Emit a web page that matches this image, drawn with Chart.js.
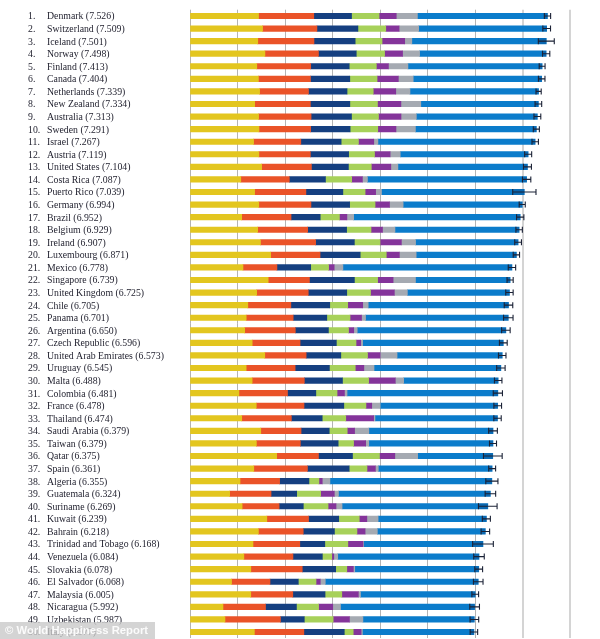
<!DOCTYPE html>
<html>
<head>
<meta charset="utf-8">
<script src="https://cdn.jsdelivr.net/npm/chart.js@4.4.1/dist/chart.umd.min.js"></script>
<style>
    html, body { margin: 0; padding: 0; background: #fff; }
    #wrap { width: 600px; height: 639px; position: relative; }
</style>
</head>
<body>
<div id="wrap"><canvas id="happinessChart"></canvas></div>
<script>
const countries = ['Denmark', 'Switzerland', 'Iceland', 'Norway', 'Finland', 'Canada', 'Netherlands', 'New Zealand',
    'Australia', 'Sweden', 'Israel', 'Austria', 'United States', 'Costa Rica', 'Puerto Rico', 'Germany', 'Brazil',
    'Belgium', 'Ireland', 'Luxembourg', 'Mexico', 'Singapore', 'United Kingdom', 'Chile', 'Panama', 'Argentina',
    'Czech Republic', 'United Arab Emirates', 'Uruguay', 'Malta', 'Colombia', 'France', 'Thailand', 'Saudi Arabia',
    'Taiwan', 'Qatar', 'Spain', 'Algeria', 'Guatemala', 'Suriname', 'Kuwait', 'Bahrain', 'Trinidad and Tobago',
    'Venezuela', 'Slovakia', 'El Salvador', 'Malaysia', 'Nicaragua', 'Uzbekistan', 'Italy'];

const scores = ['7.526', '7.509', '7.501', '7.498', '7.413', '7.404', '7.339', '7.334', '7.313', '7.291', '7.267',
    '7.119', '7.104', '7.087', '7.039', '6.994', '6.952', '6.929', '6.907', '6.871', '6.778', '6.739', '6.725',
    '6.705', '6.701', '6.650', '6.596', '6.573', '6.545', '6.488', '6.481', '6.478', '6.474', '6.379', '6.379',
    '6.375', '6.361', '6.355', '6.324', '6.269', '6.239', '6.218', '6.168', '6.084', '6.078', '6.068', '6.005',
    '5.992', '5.987', '5.977'];

const lowerCI = [7.460, 7.428, 7.333, 7.421, 7.351, 7.335, 7.284, 7.264, 7.241, 7.227, 7.199, 7.045, 7.020, 6.999,
    6.794, 6.930, 6.875, 6.861, 6.836, 6.804, 6.700, 6.674, 6.647, 6.615, 6.601, 6.560, 6.514, 6.494, 6.456, 6.409,
    6.384, 6.397, 6.396, 6.287, 6.305, 6.178, 6.288, 6.227, 6.213, 6.073, 6.154, 6.128, 5.950, 5.973, 5.996, 5.967,
    5.934, 5.890, 5.896, 5.898];

const upperCI = [7.592, 7.590, 7.669, 7.575, 7.475, 7.473, 7.394, 7.404, 7.385, 7.355, 7.335, 7.193, 7.188, 7.175,
    7.284, 7.058, 7.029, 6.997, 6.978, 6.938, 6.856, 6.804, 6.803, 6.795, 6.801, 6.740, 6.678, 6.652, 6.634, 6.567,
    6.578, 6.559, 6.552, 6.471, 6.453, 6.572, 6.434, 6.483, 6.435, 6.465, 6.324, 6.308, 6.386, 6.195, 6.160, 6.169,
    6.076, 6.094, 6.078, 6.056];

const gdp = [1.442, 1.527, 1.427, 1.577, 1.406, 1.440, 1.465, 1.361, 1.444, 1.452, 1.338, 1.450, 1.508, 1.069, 1.359,
    1.448, 1.088, 1.425, 1.483, 1.698, 1.115, 1.646, 1.403, 1.217, 1.183, 1.151, 1.309, 1.574, 1.182, 1.308, 1.030,
    1.395, 1.089, 1.490, 1.397, 1.824, 1.343, 1.053, 0.835, 1.097, 1.617, 1.440, 1.326, 1.134, 1.280, 0.874, 1.279,
    0.694, 0.736, 1.355];

const socialSupport = [1.164, 1.145, 1.183, 1.127, 1.135, 1.096, 1.029, 1.173, 1.105, 1.088, 0.995, 1.084, 1.048,
    1.022, 1.081, 1.098, 1.039, 1.052, 1.162, 1.040, 0.715, 0.868, 1.087, 0.906, 0.989, 1.066, 1.008, 0.871, 1.031,
    1.099, 1.022, 1.005, 1.045, 0.848, 0.926, 0.880, 1.129, 0.833, 0.871, 0.779, 0.878, 0.944, 0.986, 1.033, 1.083,
    0.810, 0.885, 0.895, 1.168, 1.042];

const lifeExpectancy = [0.795, 0.863, 0.867, 0.796, 0.811, 0.828, 0.812, 0.831, 0.851, 0.831, 0.849, 0.806, 0.779,
    0.761, 0.778, 0.815, 0.614, 0.820, 0.815, 0.845, 0.711, 0.947, 0.810, 0.819, 0.708, 0.697, 0.764, 0.730, 0.722,
    0.803, 0.597, 0.838, 0.649, 0.593, 0.796, 0.717, 0.879, 0.618, 0.540, 0.509, 0.636, 0.657, 0.526, 0.619, 0.704,
    0.596, 0.679, 0.652, 0.502, 0.851];

const freedom = [0.579, 0.586, 0.566, 0.596, 0.571, 0.574, 0.552, 0.581, 0.568, 0.582, 0.364, 0.544, 0.482, 0.552,
    0.468, 0.535, 0.404, 0.514, 0.540, 0.549, 0.377, 0.488, 0.500, 0.378, 0.489, 0.423, 0.414, 0.562, 0.544, 0.550,
    0.447, 0.466, 0.496, 0.379, 0.324, 0.567, 0.375, 0.210, 0.504, 0.522, 0.432, 0.474, 0.485, 0.198, 0.234, 0.373,
    0.353, 0.466, 0.608, 0.188];

const generosity = [0.362, 0.281, 0.477, 0.379, 0.255, 0.448, 0.474, 0.494, 0.474, 0.383, 0.323, 0.329, 0.411, 0.226,
    0.222, 0.305, 0.158, 0.242, 0.450, 0.276, 0.117, 0.327, 0.502, 0.316, 0.242, 0.110, 0.099, 0.266, 0.181, 0.562,
    0.156, 0.122, 0.587, 0.155, 0.255, 0.324, 0.177, 0.070, 0.288, 0.167, 0.160, 0.171, 0.319, 0.043, 0.138, 0.089,
    0.348, 0.298, 0.343, 0.167];

const corruption = [0.445, 0.412, 0.150, 0.358, 0.410, 0.313, 0.299, 0.419, 0.323, 0.409, 0.087, 0.213, 0.149, 0.105,
    0.123, 0.286, 0.142, 0.262, 0.298, 0.353, 0.184, 0.470, 0.274, 0.115, 0.084, 0.073, 0.040, 0.356, 0.214, 0.176,
    0.054, 0.178, 0.028, 0.300, 0.066, 0.480, 0.061, 0.162, 0.087, 0.127, 0.237, 0.258, 0.012, 0.083, 0.029, 0.106,
    0.045, 0.163, 0.283, 0.026];

const dystopiaResidual = [2.739, 2.695, 2.831, 2.665, 2.826, 2.705, 2.707, 2.476, 2.548, 2.547, 3.310, 2.693, 2.728,
    3.352, 3.007, 2.509, 3.507, 2.614, 2.160, 2.111, 3.559, 1.994, 2.150, 2.955, 3.006, 3.130, 2.962, 2.215, 2.671,
    1.990, 3.175, 2.474, 2.580, 2.615, 2.615, 1.582, 2.397, 3.409, 3.199, 3.069, 2.281, 2.274, 2.514, 2.975, 2.611,
    3.221, 2.416, 2.824, 2.346, 2.349];

let happinessChart = null;

function renderHappinessChart() {
    const ctx = document.getElementById('happinessChart').getContext('2d');

    // rank + country labels on the left, drawn at each category's pixel row
    const rowLabels = {
        id: 'rowLabels',
        afterDraw(chart) {
            const c = chart.ctx;
            const yScale = chart.scales.y;
            c.save();
            c.fillStyle = '#1d1d2b';
            c.font = '11px "Liberation Serif"';
            c.textBaseline = 'middle';
            c.scale(0.89, 1); // squeeze a bit, the original face is narrower
            countries.forEach((name, i) => {
                const y = yScale.getPixelForValue(i) + 0.5;
                c.fillText((i + 1) + '.', 28 / 0.89, y);
                c.fillText(name + ' (' + scores[i] + ')', 47 / 0.89, y);
            });
            c.restore();
        }
    };

    // 95% confidence interval whiskers
    const ciBars = {
        id: 'ciBars',
        afterDatasetsDraw(chart) {
            const c = chart.ctx;
            const xScale = chart.scales.x;
            const yScale = chart.scales.y;
            c.save();
            c.strokeStyle = '#1b2236';
            c.lineWidth = 1.1;
            countries.forEach((name, i) => {
                const y = yScale.getPixelForValue(i);
                const x1 = xScale.getPixelForValue(lowerCI[i]);
                const x2 = xScale.getPixelForValue(upperCI[i]);
                c.fillStyle = 'rgba(10, 40, 90, 0.25)';
                c.fillRect(x1, y - 2.75, xScale.getPixelForValue(parseFloat(scores[i])) - x1, 5.5);
                c.beginPath();
                c.moveTo(x1, y);
                c.lineTo(x2, y);
                c.moveTo(x1, y - 3);
                c.lineTo(x1, y + 3);
                c.moveTo(x2, y - 3);
                c.lineTo(x2, y + 3);
                c.stroke();
            });
            c.restore();
        }
    };

    // copyright stamp in the bottom corner
    const watermark = {
        id: 'watermark',
        afterDraw(chart) {
            const c = chart.ctx;
            c.save();
            c.fillStyle = 'rgba(200, 200, 200, 0.78)';
            c.fillRect(0, 622, 155, 17);
            c.fillStyle = 'rgba(255, 255, 255, 0.92)';
            c.font = 'bold 11.3px "Liberation Sans"';
            c.textBaseline = 'middle';
            c.fillText('\u00a9 World Happiness Report', 5, 631);
            c.restore();
        }
    };

    const segments = [
        { label: 'GDP per capita', data: gdp, color: '#e3c61f' },
        { label: 'Social support', data: socialSupport, color: '#ea5328' },
        { label: 'Healthy life expectancy', data: lifeExpectancy, color: '#153f80' },
        { label: 'Freedom', data: freedom, color: '#a7d15a' },
        { label: 'Generosity', data: generosity, color: '#84349a' },
        { label: 'Perceptions of corruption', data: corruption, color: '#a5aab2' },
        { label: 'Dystopia + residual', data: dystopiaResidual, color: '#0b7ccb' }
    ];

    if (happinessChart) {
        happinessChart.destroy();
    }

    happinessChart = new Chart(ctx, {
        type: 'bar',
        data: {
            labels: countries,
            datasets: segments.map(s => ({
                label: s.label,
                data: s.data,
                backgroundColor: s.color,
                borderWidth: 0,
                barThickness: 5.5
            }))
        },
        options: {
            indexAxis: 'y',
            responsive: true,
            maintainAspectRatio: false,
            animation: false,
            layout: {
                padding: { left: 190, right: 30, top: 9.7, bottom: 0.7 }
            },
            plugins: {
                legend: { display: false },
                tooltip: { enabled: false }
            },
            scales: {
                x: {
                    stacked: true,
                    min: 0,
                    max: 8,
                    ticks: { display: false, stepSize: 1 },
                    border: { display: false },
                    grid: {
                        drawTicks: false,
                        color: ctx => ctx.tick && ctx.tick.value >= 7 ? '#d4d4d4' : '#b4b4b4',
                        lineWidth: ctx => ctx.tick && ctx.tick.value >= 7 ? 2 : 1
                    }
                },
                y: {
                    stacked: true,
                    display: false
                }
            }
        },
        plugins: [ciBars, rowLabels, watermark]
    });
}

renderHappinessChart();
</script>
</body>
</html>
